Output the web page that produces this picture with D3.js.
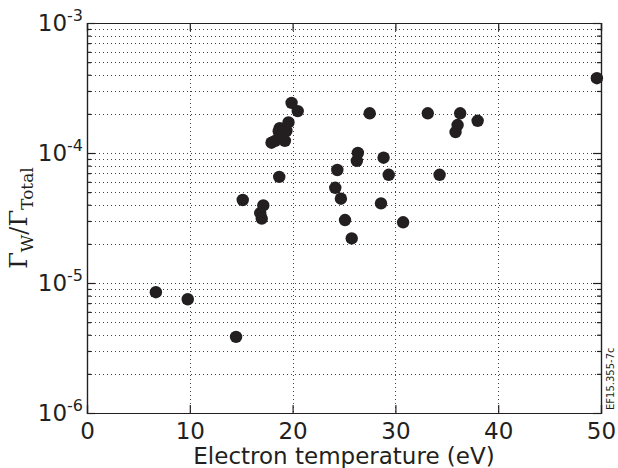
<!DOCTYPE html>
<html>
<head>
<meta charset="utf-8">
<script src="https://cdn.jsdelivr.net/npm/d3@7"></script>
<style>
  body { margin: 0; background: #fff; }
  svg { display: block; }
</style>
</head>
<body>
<svg></svg>
<script>
var margin = {top: 23, right: 17, bottom: 55, left: 87};
var width = 618 - margin.left - margin.right;
var height = 468 - margin.top - margin.bottom;

// electron temperature (eV)
var temperature = [6.7, 9.8, 14.5, 15.15, 16.85, 17.0, 17.15, 17.95, 18.3, 18.7,
  18.75, 18.65, 19.4, 19.25, 19.6, 19.9, 20.5, 24.15, 24.35, 24.7,
  25.1, 25.75, 26.25, 26.35, 27.5, 28.6, 28.85, 29.35, 30.75, 33.15,
  34.3, 35.85, 36.05, 36.3, 38.0, 49.6];
// Gamma_W / Gamma_Total
var ratio = [8.5e-6, 7.5e-6, 3.85e-6, 4.35e-5, 3.45e-5, 3.13e-5, 3.95e-5, 1.2e-4, 1.24e-4, 6.55e-5,
  1.55e-4, 1.47e-4, 1.48e-4, 1.24e-4, 1.72e-4, 2.43e-4, 2.1e-4, 5.4e-5, 7.4e-5, 4.45e-5,
  3.05e-5, 2.2e-5, 8.7e-5, 1.0e-4, 2.02e-4, 4.1e-5, 9.2e-5, 6.8e-5, 2.93e-5, 2.02e-4,
  6.8e-5, 1.45e-4, 1.64e-4, 2.02e-4, 1.77e-4, 3.76e-4];

var xTicks = [0, 10, 20, 30, 40, 50];
var yDecades = [-6, -5, -4, -3];

var points = temperature.map(function(t, i) { return {t: t, r: ratio[i]}; });

var x = d3.scaleLinear().domain([0, 50]).range([0, width]);
var y = d3.scaleLog().domain([1e-6, 1e-3]).range([height, 0]);

// every 2..9 x 10^k between the decades
var minorVals = [];
yDecades.slice(0, -1).forEach(function(e) {
  for (var m = 2; m <= 9; m++) minorVals.push(m * Math.pow(10, e));
});
var majorVals = yDecades.map(function(e) { return Math.pow(10, e); });

var svg = d3.select("svg")
    .attr("width", 618)
    .attr("height", 468);

var g = svg.append("g")
    .attr("transform", "translate(" + margin.left + "," + margin.top + ")");

var ink = "#231f20";

// dotted grid
var grid = g.append("g")
    .attr("stroke", "#444")
    .attr("stroke-width", 1)
    .attr("stroke-dasharray", "1,3");

grid.selectAll(".hgrid")
    .data(minorVals.concat(majorVals.slice(1, -1)))
  .enter().append("line")
    .attr("x1", 0).attr("x2", width)
    .attr("y1", function(d) { return Math.round(y(d)) + 0.5; })
    .attr("y2", function(d) { return Math.round(y(d)) + 0.5; });

grid.selectAll(".vgrid")
    .data(xTicks.slice(1, -1))
  .enter().append("line")
    .attr("y1", 0).attr("y2", height)
    .attr("x1", function(d) { return Math.round(x(d)) + 0.5; })
    .attr("x2", function(d) { return Math.round(x(d)) + 0.5; });

// axes: ticks pointing inward on all four sides
var bottomAxis = d3.axisBottom(x).tickValues(xTicks).tickSize(-8).tickPadding(10)
    .tickFormat(d3.format("d"));
var topAxis = d3.axisTop(x).tickValues(xTicks).tickSize(-8).tickFormat("");
var leftMajor = d3.axisLeft(y).tickValues(majorVals).tickSize(-8).tickFormat("");
var leftMinor = d3.axisLeft(y).tickValues(minorVals).tickSize(-4).tickFormat("");
var rightMajor = d3.axisRight(y).tickValues(majorVals).tickSize(-8).tickFormat("");
var rightMinor = d3.axisRight(y).tickValues(minorVals).tickSize(-4).tickFormat("");

function styleAxis(sel) {
  sel.selectAll("path, line").attr("stroke", ink).attr("stroke-width", 1.2);
  sel.selectAll("text")
    .attr("fill", ink)
    .style("font-family", "'DejaVu Sans', sans-serif")
    .style("font-size", "23px");
}

g.append("g").attr("transform", "translate(0," + height + ")").call(bottomAxis).call(styleAxis);
g.append("g").call(topAxis).call(styleAxis);
g.append("g").call(leftMajor).call(styleAxis);
g.append("g").call(leftMinor).call(styleAxis);
g.append("g").attr("transform", "translate(" + width + ",0)").call(rightMajor).call(styleAxis);
g.append("g").attr("transform", "translate(" + width + ",0)").call(rightMinor).call(styleAxis);

// y tick labels as 10^e
var ylab = g.selectAll(".ylab")
    .data(yDecades)
  .enter().append("text")
    .attr("x", -4)
    .attr("y", function(d) { return y(Math.pow(10, d)) + 8; })
    .attr("text-anchor", "end")
    .attr("fill", ink)
    .style("font-family", "'DejaVu Sans', sans-serif")
    .style("font-size", "23px");
ylab.append("tspan").text("10");
ylab.append("tspan")
    .attr("dy", -10)
    .style("font-size", "16px")
    .text(function(d) { return d; });

// data points
g.selectAll("circle")
    .data(points)
  .enter().append("circle")
    .attr("cx", function(d) { return x(d.t); })
    .attr("cy", function(d) { return y(d.r); })
    .attr("r", 6.2)
    .attr("fill", ink);

// axis titles
svg.append("text")
    .attr("x", margin.left + width / 2)
    .attr("y", 464)
    .attr("text-anchor", "middle")
    .attr("fill", ink)
    .style("font-family", "'DejaVu Sans', sans-serif")
    .style("font-size", "23px")
    .text("Electron temperature (eV)");

var yt = svg.append("text")
    .attr("transform", "translate(27,218) rotate(-90)")
    .attr("text-anchor", "middle")
    .attr("fill", ink)
    .style("font-family", "'DejaVu Serif', serif")
    .style("font-size", "24px");
yt.append("tspan").text("\u0393");
yt.append("tspan").attr("dy", 6).style("font-size", "17px").text("W");
yt.append("tspan").attr("dy", -6).text("/\u0393");
yt.append("tspan").attr("dy", 6).style("font-size", "17px").text("Total");

// figure id
svg.append("text")
    .attr("transform", "translate(614,410) rotate(-90)")
    .attr("fill", ink)
    .style("font-family", "'DejaVu Sans', sans-serif")
    .style("font-size", "10px")
    .text("EF15.355-7c");
</script>
</body>
</html>
